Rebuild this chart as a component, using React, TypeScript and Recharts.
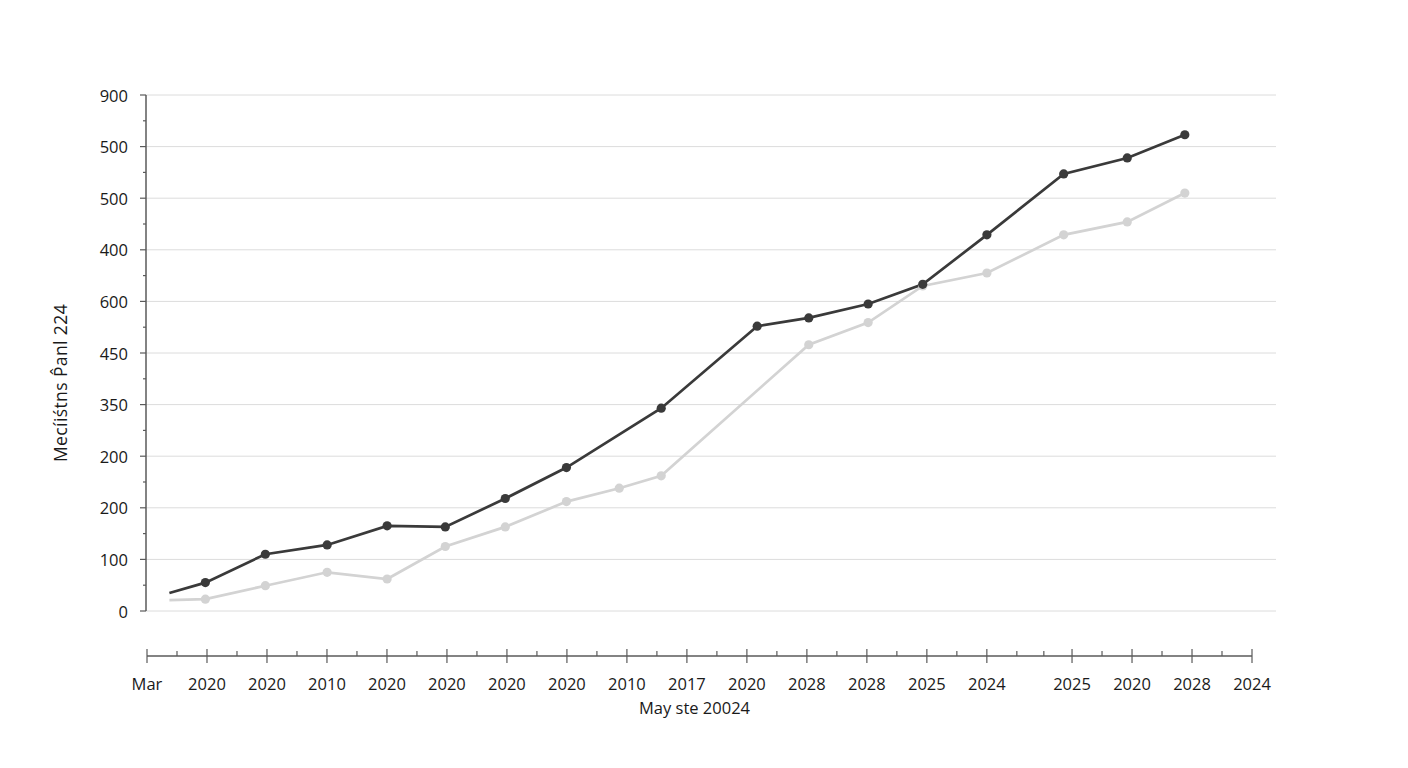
import { CartesianGrid, Line, LineChart, XAxis, YAxis } from "recharts";

const INK = "#3a3a3a";
const PALE = "#d3d3d3";
const RULE = "#dcdcdc";
const AXIS = "#5a5a5a";
const TEXT = "#1a1a1a";
const FONT = "'Open Sans', 'Noto Sans', sans-serif";

// positions along the time axis (one unit = one major tick on the bottom scale)
const positions = [0.37, 0.97, 1.97, 3.0, 4.0, 4.97, 5.97, 6.99, 7.87, 8.57, 10.17, 11.03, 12.02, 12.93, 14.0, 15.28, 16.34, 17.3];
const darkValues = [35, 55, 110, 128, 165, 163, 218, 278, null, 393, 552, 568, 595, 633, 729, 847, 878, 923];
const lightValues = [21, 23, 49, 75, 62, 125, 163, 212, 238, 262, null, 516, 559, 630, 655, 729, 754, 810];

const yMajor = [0, 100, 200, 300, 400, 500, 600, 700, 800, 900, 1000];
const yMinor = [50, 150, 250, 350, 450, 550, 650, 750, 850, 950];
const yLabels = ["0", "100", "200", "200", "350", "450", "600", "400", "500", "500", "900"];

const xMajor = [0, 1, 2, 3, 4, 5, 6, 7, 8, 9, 10, 11, 12, 13, 14, 15.42, 16.42, 17.42, 18.42];
const xMinor = [0.5, 1.5, 2.5, 3.5, 4.5, 5.5, 6.5, 7.5, 8.5, 9.5, 10.5, 11.5, 12.5, 13.5, 14.5, 14.95, 15.92, 16.92, 17.92];
const xLabels = ["Mar", "2020", "2020", "2010", "2020", "2020", "2020", "2020", "2010", "2017", "2020", "2028", "2028", "2025", "2024", "2025", "2020", "2028", "2024"];

const yTitle = "Mecíiśtns  P̂anl 224";
const xTitle = "May ste 20024";

const data = positions.map((t, i) => ({ t, dark: darkValues[i], light: lightValues[i] }));
const yTicks = [...yMajor, ...yMinor].sort((a, b) => a - b);
const xTicks = [...xMajor, ...xMinor].sort((a, b) => a - b);

function YTick({ x, y, payload }: any) {
  const idx = yMajor.indexOf(payload.value);
  if (idx < 0) {
    return <line x1={x - 3} x2={x} y1={y} y2={y} stroke={AXIS} strokeWidth={1.2} />;
  }
  return (
    <g>
      <line x1={x - 6} x2={x} y1={y} y2={y} stroke={AXIS} strokeWidth={1.2} />
      <text x={x - 18} y={y} textAnchor="end" dominantBaseline="central" fill={TEXT} fontSize={16.5} fontFamily={FONT}>
        {yLabels[idx]}
      </text>
    </g>
  );
}

function XTick({ x, y, payload }: any) {
  const idx = xMajor.indexOf(payload.value);
  if (idx < 0) {
    return <line x1={x} x2={x} y1={y - 5} y2={y} stroke={AXIS} strokeWidth={1.2} />;
  }
  return (
    <g>
      <line x1={x} x2={x} y1={y - 7} y2={y + 7} stroke={AXIS} strokeWidth={1.2} />
      <text x={x} y={y + 27} textAnchor="middle" dominantBaseline="central" fill={TEXT} fontSize={16.5} fontFamily={FONT}>
        {xLabels[idx]}
      </text>
    </g>
  );
}

function dotFor(color: string) {
  return (props: any) => {
    const { cx, cy, index, value } = props;
    if (index === 0 || value == null || cx == null) return <g key={`d${index}`} />;
    return <circle key={`d${index}`} cx={cx} cy={cy} r={4.6} fill={color} stroke="none" />;
  };
}

export default function App() {
  return (
    <div style={{ position: "relative", width: 1392, height: 740 }}>
      <LineChart width={1392} height={700} data={data} margin={{ top: 87, right: 124, bottom: 97, left: 0 }}>
        <CartesianGrid horizontalValues={yMajor} vertical={false} stroke={RULE} strokeWidth={1} />
        <XAxis dataKey="t" type="number" domain={[-0.02, 18.82]} hide />
        <YAxis
          type="number"
          domain={[0, 1000]}
          ticks={yTicks}
          interval={0}
          width={138}
          tickSize={0}
          tickMargin={0}
          tickLine={false}
          axisLine={{ stroke: AXIS, strokeWidth: 1.5 }}
          tick={<YTick />}
          label={({ viewBox }: any) => {
            const cx = viewBox.x + 52;
            const cy = viewBox.y + viewBox.height / 2 + 30;
            return (
              <text
                x={cx}
                y={cy}
                transform={`rotate(-90, ${cx}, ${cy})`}
                textAnchor="middle"
                dominantBaseline="central"
                fill={TEXT}
                fontSize={17.5}
                letterSpacing={0.4}
                fontFamily={FONT}
              >
                {yTitle}
              </text>
            );
          }}
        />
        <Line
          dataKey="light"
          stroke={PALE}
          strokeWidth={2.7}
          dot={dotFor(PALE)}
          activeDot={false}
          connectNulls
          isAnimationActive={false}
        />
        <Line
          dataKey="dark"
          stroke={INK}
          strokeWidth={2.7}
          dot={dotFor(INK)}
          activeDot={false}
          connectNulls
          isAnimationActive={false}
        />
      </LineChart>
      <div style={{ position: "absolute", left: 0, top: 0 }}>
        <LineChart
          width={1392}
          height={740}
          data={xMajor.map((t) => ({ t }))}
          margin={{ top: 87, right: 148, bottom: 32, left: 139 }}
        >
          <XAxis
            dataKey="t"
            type="number"
            domain={[0, 18.42]}
            ticks={xTicks}
            interval={0}
            height={60}
            tickSize={0}
            tickMargin={0}
            tickLine={false}
            axisLine={{ stroke: AXIS, strokeWidth: 1.5 }}
            tick={<XTick />}
            label={({ viewBox }: any) => (
              <text
                x={viewBox.x + viewBox.width / 2 - 5}
                y={viewBox.y + 51}
                textAnchor="middle"
                dominantBaseline="central"
                fill={TEXT}
                fontSize={16.5}
                fontFamily={FONT}
              >
                {xTitle}
              </text>
            )}
          />
          <YAxis hide domain={[0, 1]} />
        </LineChart>
      </div>
    </div>
  );
}
